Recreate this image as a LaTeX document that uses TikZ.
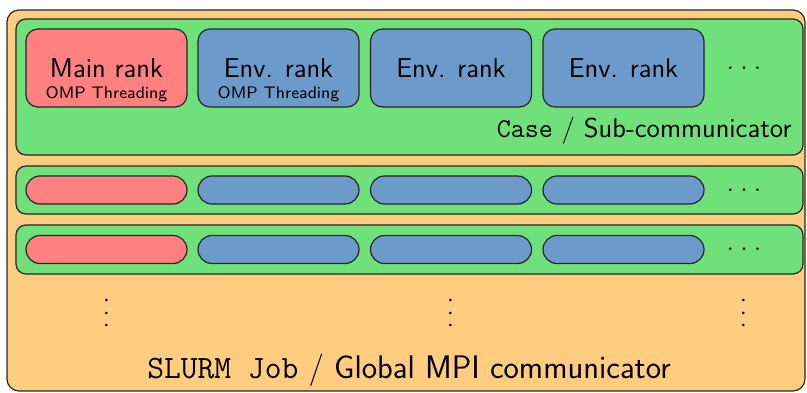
\documentclass[tikz,border=0pt]{standalone}
\usepackage{fontspec}
\definecolor{rankred}{RGB}{255,128,128}
\definecolor{rankblue}{RGB}{108,155,203}
\definecolor{casegreen}{RGB}{112,224,122}
\definecolor{joborange}{RGB}{255,204,128}
\newcommand\hdotsrow{.\kern2.8pt.\kern2.8pt.}
\newcommand\vdotsrow{.\kern2.1pt.\kern2.1pt.}
\tikzset{
  frame/.style={draw=black!85, line width=0.6pt},
  jobbox/.style={frame, fill=joborange, rounded corners=6pt, inner sep=0pt},
  casebox/.style={frame, fill=casegreen, rounded corners=5pt, minimum width=393.5pt, inner sep=0pt},
  rankbox/.style={frame, rounded corners=6pt, minimum width=80.5pt, minimum height=39pt, inner sep=0pt,
    font=\sffamily\fontsize{13.6}{16}\selectfont},
  pill/.style={frame, rounded corners=7pt, minimum width=80.5pt, minimum height=14pt, inner sep=0pt},
  mainfill/.style={fill=rankred},
  envfill/.style={fill=rankblue},
  subtitle/.style={inner sep=0pt, font=\sffamily\fontsize{8.4}{10}\selectfont},
  dotsmark/.style={inner sep=0pt, font=\rmfamily\fontsize{16}{19}\selectfont},
  vdotsmark/.style={dotsmark, rotate=-90},
}
\begin{document}
\begin{tikzpicture}[x=0.5pt,y=-0.5pt]
\useasboundingbox (0,0) rectangle (807,392);

% global job
\node[jobbox, minimum width=399pt, minimum height=190.5pt] (job) at (406,200.5) {};

% cases / sub-communicators
\node[casebox, minimum height=68pt] (case1) at (409.5,87) {};
\node[casebox, minimum height=24pt] (case2) at (409.5,190) {};
\node[casebox, minimum height=24.5pt] (case3) at (409.5,249.5) {};

% ranks of the first case
\node[rankbox, mainfill] (main1) at (106.5,68) {Main rank};
\node[subtitle] (omp1) at (106.5,94) {OMP Threading};
\node[rankbox, envfill] (env1a) at (278.5,68) {Env. rank};
\node[subtitle] (omp2) at (278.5,94) {OMP Threading};
\node[rankbox, envfill] (env1b) at (451,68) {Env. rank};
\node[rankbox, envfill] (env1c) at (623.5,68) {Env. rank};
\node[dotsmark] (more1) at (744,68) {\hdotsrow};
\node[inner sep=0pt, anchor=base east, font=\sffamily\fontsize{13.6}{16}\selectfont] (caselabel)
  at (792,137) {\texttt{Case} / Sub-communicator};

% second case
\node[pill, mainfill] (main2) at (106.5,190) {};
\node[pill, envfill] (env2a) at (278.5,190) {};
\node[pill, envfill] (env2b) at (451,190) {};
\node[pill, envfill] (env2c) at (623.5,190) {};
\node[dotsmark] (more2) at (744,190) {\hdotsrow};

% third case
\node[pill, mainfill] (main3) at (106.5,249.5) {};
\node[pill, envfill] (env3a) at (278.5,249.5) {};
\node[pill, envfill] (env3b) at (451,249.5) {};
\node[pill, envfill] (env3c) at (623.5,249.5) {};
\node[dotsmark] (more3) at (744,249.5) {\hdotsrow};

% further cases
\node[vdotsmark] (vmore1) at (107,313) {\vdotsrow};
\node[vdotsmark] (vmore2) at (451,313) {\vdotsrow};
\node[vdotsmark] (vmore3) at (744,313) {\vdotsrow};

\node[inner sep=0pt, anchor=base, font=\sffamily\fontsize{16.3}{19}\selectfont] (joblabel)
  at (409,378) {\texttt{SLURM Job} / Global MPI communicator};
\end{tikzpicture}
\end{document}
